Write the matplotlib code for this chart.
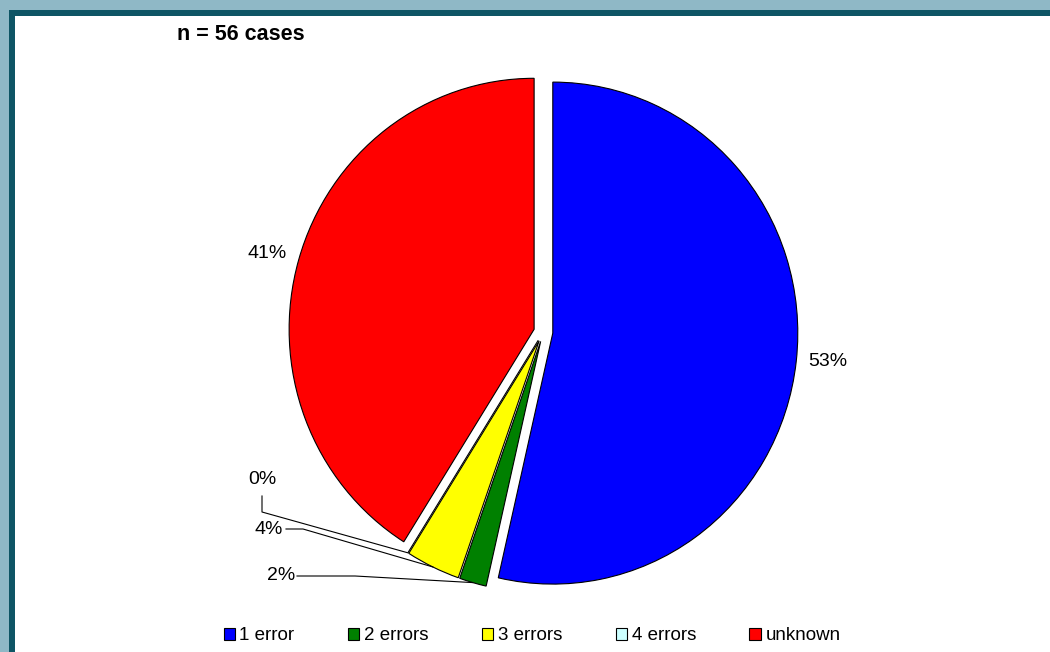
import matplotlib.pyplot as plt
import numpy as np
from matplotlib.patches import Rectangle

plt.rcParams['font.family'] = ['Liberation Sans', 'DejaVu Sans']

categories = ['1 error', '2 errors', '3 errors', '4 errors', 'unknown']
cases = [30, 1, 2, 0, 23]  # n = 56
colors = ['#0000FF', '#008000', '#FFFF00', '#CCFFFF', '#FF0000']
pct_labels = ['53%', '2%', '4%', '0%', '41%']

W, H = 1050, 652
fig = plt.figure(figsize=(W / 100, H / 100), dpi=100)
fig.patch.set_facecolor('#8FB8C6')

# dark frame and white panel
fig.patches.append(Rectangle((9 / W, 0), 1, 1 - 10 / H, transform=fig.transFigure,
                             facecolor='#0E5565', edgecolor='none', zorder=0))
fig.patches.append(Rectangle((15 / W, 0), 1, 1 - 16 / H, transform=fig.transFigure,
                             facecolor='white', edgecolor='none', zorder=0))

ax = fig.add_axes([0, 0, 1, 1])
ax.set_zorder(2)
ax.patch.set_alpha(0)

# pie centre and radii in pixels (slightly wider than tall)
cxp, cyp, rx, ry = 543.3, 332.0, 245.0, 251.0

def px(x, y):
    """pixel position (from top-left) -> data coords of the unit pie"""
    return (x - cxp) / rx, (cyp - y) / ry

expl = 0.039
wedges, _ = ax.pie(cases, colors=colors, startangle=90, counterclock=False,
                   radius=1, explode=[expl] * len(cases),
                   wedgeprops=dict(edgecolor='black', linewidth=0.8))
# pie() resets the limits, so pin them afterwards
x0, y0 = px(0, H)
x1, y1 = px(W, 0)
ax.set_xlim(x0, x1)
ax.set_ylim(y0, y1)
ax.set_aspect('auto')
ax.axis('off')

def arc_point(w):
    mid = np.deg2rad((w.theta1 + w.theta2) / 2)
    wx, wy = w.center
    return wx + np.cos(mid), wy + np.sin(mid)

fs = 14
label_pos = {0: (828, 362), 4: (267, 254), 3: (262, 480), 2: (269, 529), 1: (281, 576)}
for i, (lx, ly) in label_pos.items():
    ax.text(*px(lx, ly), pct_labels[i], fontsize=fs, ha='center', va='center')

# leader lines for the thin slices
leaders = {
    3: [(262, 496), (262, 512)],
    2: [(286, 529), (303, 529)],
    1: [(297, 576), (355, 576)],
}
for i, pts in leaders.items():
    pts = [px(x, y) for x, y in pts] + [arc_point(wedges[i])]
    ax.plot([p[0] for p in pts], [p[1] for p in pts], color='black', linewidth=0.8)

fig.text(177 / W, 1 - 34 / H, 'n = 56 cases', fontsize=15.5, fontweight='bold',
         ha='left', va='center')

handles = [Rectangle((0, 0), 1, 1, facecolor=c, edgecolor='black', linewidth=0.8)
           for c in colors]
leg = fig.legend(handles, categories, loc='center', bbox_to_anchor=(532 / W, 16 / H),
                 ncol=5, frameon=False, fontsize=13.5, handlelength=0.6,
                 handleheight=0.6, handletextpad=0.25, columnspacing=2.85,
                 borderaxespad=0)
leg.set_zorder(3)

fig.savefig('out.png', dpi=100, facecolor=fig.get_facecolor())
